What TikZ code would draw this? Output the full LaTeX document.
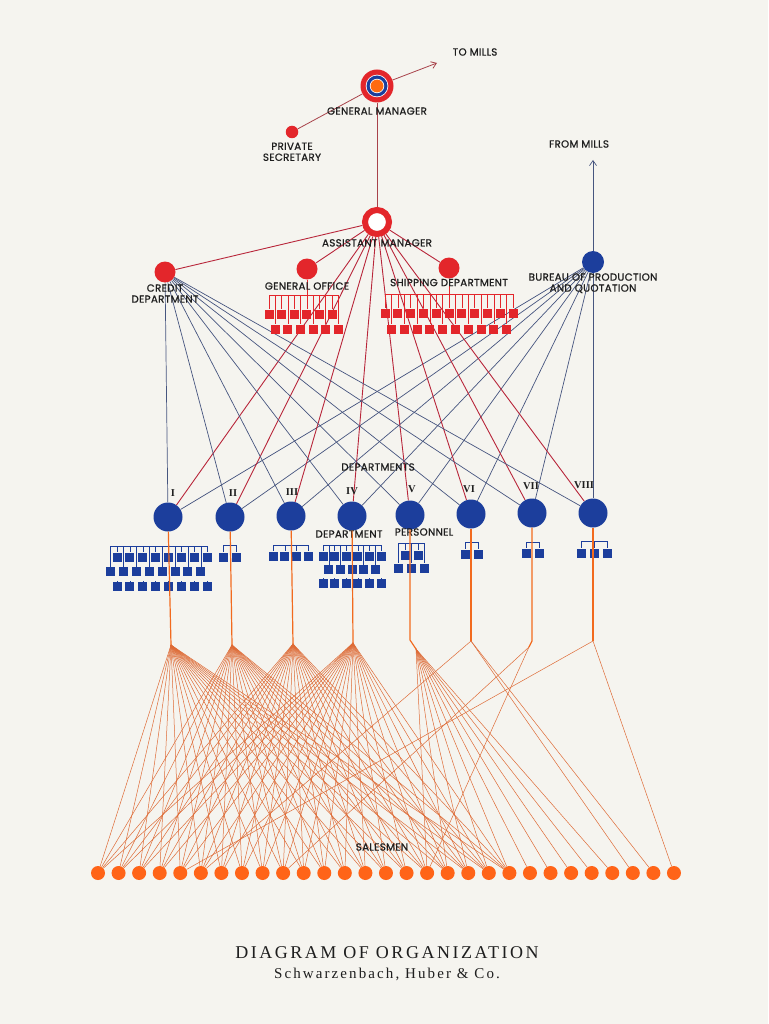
\documentclass[tikz,border=0pt]{standalone}
\usepackage{fontspec}
\setmainfont{Liberation Serif}
\newfontfamily\labelfont[LetterSpace=3, FakeBold=0.9]{Poppins}
\newfontfamily\titlefont[LetterSpace=14]{Liberation Serif}
\newfontfamily\subtitlefont[LetterSpace=14]{Liberation Serif}
\usepackage{tikz}
\usetikzlibrary{arrows.meta,positioning,backgrounds}

\definecolor{paper}{HTML}{F5F4EF}
\definecolor{officered}{HTML}{E3262B}
\definecolor{linkred}{HTML}{B8263A}
\definecolor{deptblue}{HTML}{1C3E9C}
\definecolor{linkblue}{HTML}{46557F}
\definecolor{salesorange}{HTML}{FF6418}
\definecolor{fanorange}{HTML}{DE6B36}
\definecolor{feedorange}{HTML}{F26A1E}
\definecolor{gmorange}{HTML}{FF6A10}
\definecolor{mgrlink}{HTML}{A8424A}
\definecolor{inkgray}{HTML}{1E1E1E}

% colour, bracket y, row y, name, first x, step, count
\newcommand\staffrow[7]{%
  \foreach \k in {1,...,#7} {
    \pgfmathsetmacro\sx{#5+(\k-1)*#6}
    \node[staffbox, fill=#1] (#4-\k) at (\sx,#3) {};
    \draw[#1, line width=0.6pt] (\sx,#2) -- (#4-\k.north);
  }}

\begin{document}
\begin{tikzpicture}[
    x=1pt, y=-1pt,
    lbl/.style={font=\labelfont\fontsize{10.3}{11}\selectfont, text=inkgray,
                align=center, inner sep=0pt},
    numeral/.style={font=\bfseries\fontsize{10.5}{10.5}\selectfont, text=inkgray, inner sep=0pt},
    reddot/.style={circle, fill=officered, minimum size=21pt, inner sep=0pt},
    deptdot/.style={circle, fill=deptblue, minimum size=29pt, inner sep=0pt},
    salesdot/.style={circle, fill=salesorange, minimum size=14pt, inner sep=0pt},
    staffbox/.style={rectangle, minimum size=9pt, inner sep=0pt},
    amline/.style={linkred, line width=0.9pt},
    deptline/.style={linkblue, line width=0.7pt},
    mgrline/.style={mgrlink, line width=0.8pt},
    fanline/.style={fanorange, line width=0.5pt},
    feedline/.style={feedorange, line width=1.2pt},
    bracket/.style={line width=0.6pt}
  ]
  \useasboundingbox (0,0) rectangle (768,1024);
  \begin{scope}[on background layer]
    \fill[paper] (0,0) rectangle (768,1024);
  \end{scope}

  % --- management (top) ---
  \node[circle, fill=officered, minimum size=33pt, inner sep=0pt] (gm) at (377,86) {};
  \fill[white] (gm.center) circle (11.3pt);
  \fill[deptblue] (gm.center) circle (10.5pt);
  \fill[white] (gm.center) circle (7.2pt);
  \fill[gmorange] (gm.center) circle (6.4pt);
  \node[circle, fill=officered, minimum size=12.5pt, inner sep=0pt] (psec) at (292,132) {};
  \node[circle, draw=officered, line width=6pt, fill=white, minimum size=24pt,
        inner sep=0pt] (am) at (377,222) {};

  \coordinate (tomills) at (437,63);
  \coordinate (frommills) at (593,160);

  \node[lbl] (tomillslbl) at (475,52) {TO MILLS};
  \node[lbl, below=4.5pt of gm] (gmlbl) {GENERAL MANAGER};
  \node[lbl, below=4pt of psec] (pseclbl) {PRIVATE\\SECRETARY};
  \node[lbl, below=2pt of am] (amlbl) {ASSISTANT MANAGER};

  % --- staff offices ---
  \node[reddot] (cred) at (165,272) {};
  \node[reddot] (gof)  at (307,269) {};
  \node[reddot] (ship) at (449,268) {};
  \node[reddot, fill=deptblue, minimum size=22pt] (bur) at (593,262) {};

  \node[lbl, below=1.5pt of cred] (credlbl) {CREDIT\\DEPARTMENT};
  \node[lbl, below=2.5pt of gof] (goflbl) {GENERAL OFFICE};
  \node[lbl, below=0pt of ship] (shiplbl) {SHIPPING DEPARTMENT};
  \node[lbl, below=0pt of bur] (burlbl) {BUREAU OF PRODUCTION\\AND QUOTATION};
  \node[lbl] (frommillslbl) at (579,144) {FROM MILLS};

  \coordinate (gofbr) at (307,295);
  \coordinate (shipbr) at (449,294);
  \draw[officered, bracket] (269,295) -- (338,295);
  \draw[officered, bracket] (385,294) -- (513,294);
  \staffrow{officered}{295}{314}{gofa}{269}{12.6}{6}
  \staffrow{officered}{295}{329}{gofb}{275.3}{12.6}{6}
  \staffrow{officered}{294}{313}{shipa}{385}{12.8}{11}
  \staffrow{officered}{294}{329}{shipb}{391.4}{12.8}{10}

  % --- departments I to VIII ---
  \foreach \i/\x/\y in {1/168/517, 2/230/517, 3/291/516, 4/352/516,
                        5/410/515, 6/471/514, 7/532/513, 8/593/513}
    \node[deptdot] (d\i) at (\x,\y) {};
  \foreach \i/\r/\x/\y in {1/I/173/493, 2/II/233/493, 3/III/292/492, 4/IV/352/491,
                           5/V/412/489, 6/VI/469/489, 7/VII/531/486, 8/VIII/584/485}
    \node[numeral] (n\i) at (\x,\y) {\r};

  \node[lbl] (deptslbl) at (378,467) {DEPARTMENTS};
  \node[lbl] (perslbla) at (349,534) {DEPARTMENT};
  \node[lbl] (perslblb) at (424,532) {PERSONNEL};

  % department personnel
  \draw[deptblue, bracket] (110.5,546) -- (207.3,546);
  \draw[deptblue, bracket] (223,545) -- (236,545);
  \draw[deptblue, bracket] (273,545) -- (308.4,545);
  \draw[deptblue, bracket] (323,545) -- (381,545);
  \draw[deptblue, bracket] (398.5,543) -- (424.5,543);
  \draw[deptblue, bracket] (465,542) -- (478,542);
  \draw[deptblue, bracket] (526,542) -- (539,542);
  \draw[deptblue, bracket] (581,541) -- (607,541);
  \staffrow{deptblue}{546}{557}{dia}{117}{12.9}{8}
  \staffrow{deptblue}{546}{571.5}{dib}{110.5}{12.9}{8}
  \staffrow{deptblue}{586}{586}{dic}{117}{12.9}{8}
  \staffrow{deptblue}{545}{557}{diia}{223}{13}{2}
  \staffrow{deptblue}{545}{556}{diiia}{273}{11.8}{4}
  \staffrow{deptblue}{545}{556}{diva}{323}{11.6}{6}
  \staffrow{deptblue}{545}{569.5}{divb}{328.8}{11.6}{5}
  \staffrow{deptblue}{583}{583}{divc}{323}{11.6}{6}
  \staffrow{deptblue}{543}{555}{dva}{405}{13}{2}
  \staffrow{deptblue}{543}{568}{dvb}{398.5}{13}{3}
  \staffrow{deptblue}{542}{554}{dvia}{465}{13}{2}
  \staffrow{deptblue}{542}{553}{dviia}{526}{13}{2}
  \staffrow{deptblue}{541}{553}{dviiia}{581}{13}{3}

  % --- salesmen ---
  \foreach \a/\x/\y in {a1/171/645, a2/232/645, a3/293/644, a4/353/643,
                        k5/410/640, a5/416/649, a6/471/641, k7/532/641,
                        a7/529/647, a8/593/641}
    \coordinate (\a) at (\x,\y);
  \foreach \i in {0,...,28}
    \node[salesdot] (s\i) at ({98+20.57*\i},873) {};
  \node[lbl] (saleslbl) at (382,847) {SALESMEN};

  \draw[feedline] (d1) -- (a1);
  \draw[feedline] (d2) -- (a2);
  \draw[feedline] (d3) -- (a3);
  \draw[feedline] (d4) -- (a4);
  \draw[feedline] (d5) -- (k5) -- (a5);
  \draw[feedline] (d6) -- (a6);
  \draw[feedline] (d7) -- (k7) -- (a7);
  \draw[feedline] (d8) -- (a8);

  % --- lines of authority (behind) ---
  \begin{scope}[on background layer]
    \draw[mgrline] (psec) -- (gm);
    \draw[mgrline, -{Straight Barb[length=5pt,width=7pt]}] (gm) -- (tomills);
    \draw[mgrline] (gm) -- (am);
    \draw[deptline, -{Straight Barb[length=5pt,width=7pt]}] (bur) -- (frommills);

    \draw[amline] (am) -- (cred);
    \draw[amline] (am) -- (gof);
    \draw[amline] (am) -- (ship);
    \draw[officered, line width=0.7pt] (gof) -- (gofbr);
    \draw[officered, line width=0.7pt] (ship) -- (shipbr);

    \foreach \i in {1,...,8} {
      \draw[deptline] (cred) -- (d\i);
      \draw[deptline] (bur) -- (d\i);
      \draw[amline] (am) -- (d\i);
    }

    \foreach \a/\lo/\hi in {a1/0/20, a2/0/20, a3/0/20, a4/0/20, a5/16/25}
      \foreach \i in {\lo,...,\hi}
        \draw[fanline] (\a) -- (s\i);
    \foreach \a/\i in {a6/5, a6/26, a6/27, a7/9, a7/16, a8/4, a8/28}
      \draw[fanline] (\a) -- (s\i);
  \end{scope}

  % --- caption ---
  \node[font=\titlefont\fontsize{18}{20}\selectfont, text=inkgray, inner sep=0pt]
       (title) at (387,953) {DIAGRAM OF ORGANIZATION};
  \node[font=\subtitlefont\fontsize{15}{17}\selectfont, text=inkgray, inner sep=0pt,
        below=9pt of title] (subtitle) {Schwarzenbach, Huber \& Co.};

\end{tikzpicture}
\end{document}
